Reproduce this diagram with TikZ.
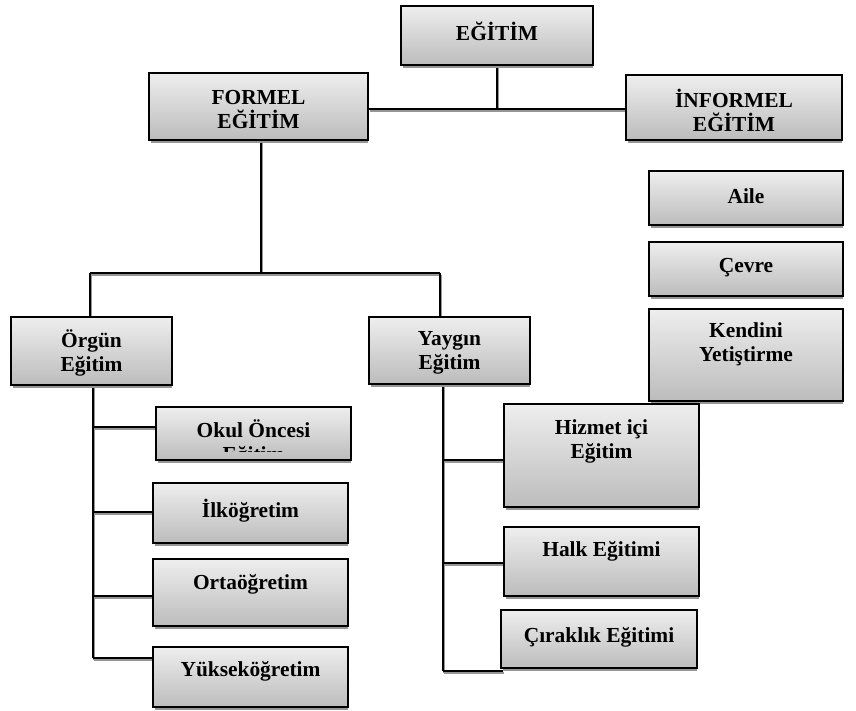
\documentclass[tikz,border=0pt]{standalone}
\usepackage{fontspec}
\setmainfont{Liberation Serif}
\usetikzlibrary{fit,backgrounds}
\definecolor{boxtop}{RGB}{238,238,238}
\definecolor{boxbot}{RGB}{188,188,188}
\definecolor{shadowgray}{RGB}{150,150,150}
\tikzset{
  boxshape/.style={draw=black, line width=1pt, top color=boxtop, bottom color=boxbot, inner sep=0pt},
  lbl/.style={font=\bfseries\fontsize{10.7}{12}\selectfont, align=center, inner sep=0pt},
  conn/.style={draw=black, line width=1pt},
}
\newcommand\mybox[5]{%
  \fill[shadowgray] (#2+2,#5) rectangle (#4,#5+3);
  \node[boxshape, fit={(#2,#3) (#4,#5)}] (#1) {};
}
\newcommand\allconnectors{%
  \draw[conn] (egitim.south) -- (jtop);
  \draw[conn] (formel.east |- jtop) -- (informel.west |- jtop);
  \draw[conn] (fs |- formel.south) -- (fs);
  \draw[conn] (sl) -- (sr);
  \draw[conn] (sl) -- (sl |- orgun.north);
  \draw[conn] (sr) -- (sr |- yaygin.north);
  \draw[conn] (ot |- orgun.south) -- (ob);
  \draw[conn] (o1) -- (o1 -| okul.west);
  \draw[conn] (o2) -- (o2 -| ilk.west);
  \draw[conn] (o3) -- (o3 -| orta.west);
  \draw[conn] (ob) -- (ob -| yuksek.west);
  \draw[conn] (yt |- yaygin.south) -- (yb);
  \draw[conn] (y1) -- (y1 -| hizmet.west);
  \draw[conn] (y2) -- (y2 -| halk.west);
  \draw[conn] (yb) -- (yb -| hizmet.west);
}
\begin{document}
\begin{tikzpicture}[x=0.5pt,y=-0.5pt]
\useasboundingbox (0,0) rectangle (856,711);
% boxes
\mybox{egitim}{401}{6}{593}{65}
\mybox{formel}{149}{73}{368}{140}
\mybox{informel}{626}{75}{842}{140}
\mybox{aile}{649}{171}{843}{225}
\mybox{cevre}{649}{242}{843}{296}
\mybox{kendini}{649}{309}{843}{401}
\mybox{orgun}{11}{317}{172}{385}
\mybox{yaygin}{369}{317}{530}{384}
\mybox{okul}{156}{407}{351}{460}
\mybox{ilk}{153}{483}{348}{543}
\mybox{orta}{153}{559}{348}{626}
\mybox{yuksek}{153}{647}{348}{707}
\mybox{hizmet}{504}{404}{699}{507}
\mybox{halk}{504}{527}{699}{596}
\mybox{cirak}{501}{610}{697}{668}
% texts
\node[lbl] (tegitim) at (497,31) {EĞİTİM};
\node[lbl] (tformel) at (258.5,110) {FORMEL\\EĞİTİM};
\node[lbl] (tinformel) at (734,110) {İNFORMEL\\EĞİTİM};
\node[lbl] (taile) at (746,196) {Aile};
\node[lbl] (tcevre) at (746,268) {Çevre};
\node[lbl] (tkendini) at (746,344) {Kendini\\Yetiştirme};
\node[lbl] (torgun) at (91.5,353) {Örgün\\Eğitim};
\node[lbl] (tyaygin) at (449.5,353) {Yaygın\\Eğitim};
\begin{scope}
  \clip (158,409) rectangle (349,451);
  \node[lbl] (tokul) at (253.5,443) {Okul Öncesi\\Eğitim};
\end{scope}
\node[lbl] (tilk) at (250.5,511) {İlköğretim};
\node[lbl] (torta) at (250.5,584) {Ortaöğretim};
\node[lbl] (tyuksek) at (250.5,671) {Yükseköğretim};
\node[lbl] (thizmet) at (601.5,441) {Hizmet içi\\Eğitim};
\node[lbl] (thalk) at (601.5,551) {Halk Eğitimi};
\node[lbl] (tcirak) at (599,637) {Çıraklık Eğitimi};
% junction coordinates
\coordinate (jtop) at (497,109);
\coordinate (fs) at (261,273);
\coordinate (sl) at (90,273);
\coordinate (sr) at (440,273);
\coordinate (ot) at (93,400);
\coordinate (o1) at (93,427);
\coordinate (o2) at (93,512);
\coordinate (o3) at (93,596);
\coordinate (ob) at (93,658);
\coordinate (yt) at (443,400);
\coordinate (y1) at (443,460);
\coordinate (y2) at (443,563);
\coordinate (yb) at (443,671);
\begin{scope}[on background layer]
  \begin{scope}[transform canvas={shift={(0.6pt,-1.1pt)}}, conn/.style={draw=shadowgray, line width=1pt}]
    \allconnectors
  \end{scope}
  \allconnectors
\end{scope}
\end{tikzpicture}
\end{document}
